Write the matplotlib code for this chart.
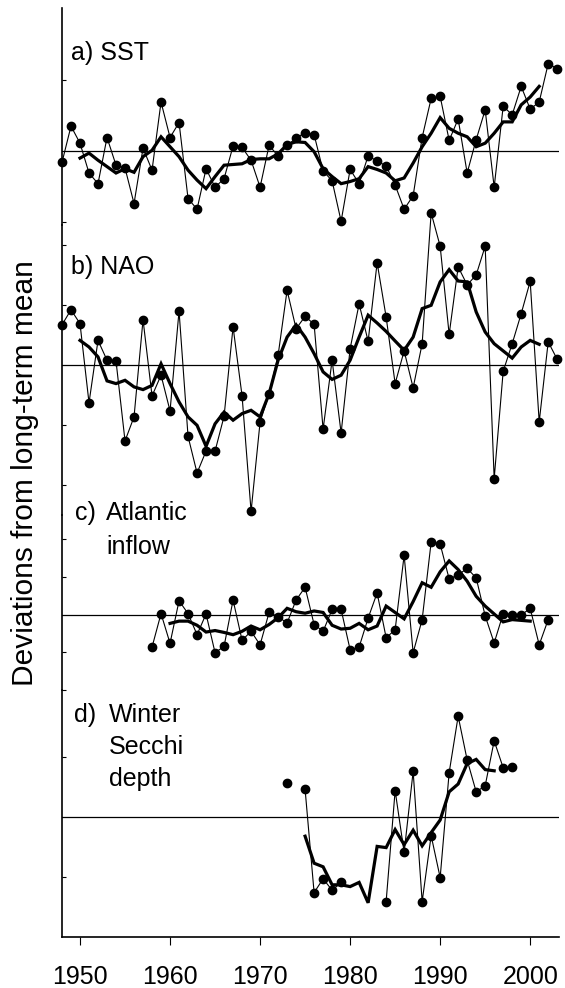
import numpy as np
from matplotlib import pyplot as plt

plt.rcParams['font.family'] = ['Liberation Sans', 'DejaVu Sans']

# years for each record
years_sst = np.arange(1948, 2004)
years_nao = np.arange(1948, 2004)
years_inflow = np.arange(1958, 2003)
years_secchi = np.arange(1973, 1999)

# a) SST deviations
sst = [-0.16, 0.35, 0.11, -0.31, -0.46, 0.19, -0.20, -0.24, -0.74, 0.04,
       -0.27, 0.69, 0.19, 0.40, -0.67, -0.82, -0.25, -0.51, -0.39, 0.07,
       0.05, -0.13, -0.51, 0.08, -0.07, 0.08, 0.18, 0.26, 0.23, -0.28,
       -0.42, -0.99, -0.26, -0.46, -0.07, -0.14, -0.21, -0.48, -0.82, -0.63,
       0.19, 0.74, 0.77, 0.15, 0.45, -0.31, 0.16, 0.58, -0.51, 0.63,
       0.51, 0.91, 0.59, 0.69, 1.23, 1.16]
years_sst_smooth = np.arange(1950, 2002)
sst_smooth = [-0.10, -0.03, -0.13, -0.22, -0.31, -0.25, -0.30, -0.08, 0.01, 0.20,
              0.06, -0.08, -0.27, -0.41, -0.53, -0.36, -0.20, -0.19, -0.18, -0.12,
              -0.11, -0.11, -0.04, 0.09, 0.13, 0.12, -0.01, -0.25, -0.36, -0.46,
              -0.43, -0.39, -0.22, -0.26, -0.31, -0.42, -0.38, -0.17, 0.06, 0.25,
              0.47, 0.32, 0.25, 0.20, 0.06, 0.11, 0.25, 0.41, 0.41, 0.65,
              0.76, 0.91]

# b) NAO index
nao = [1.34, 1.84, 1.38, -1.26, 0.82, 0.16, 0.13, -2.53, -1.73, 1.51,
       -1.03, -0.34, -1.53, 1.80, -2.38, -3.60, -2.87, -2.87, -1.71, 1.27,
       -1.03, -4.88, -1.90, -0.96, 0.32, 2.49, 1.21, 1.62, 1.36, -2.14,
       0.16, -2.27, 0.54, 2.04, 0.79, 3.41, 1.60, -0.62, 0.47, -0.76,
       0.71, 5.07, 3.96, 1.02, 3.27, 2.67, 3.00, 3.96, -3.79, -0.21,
       0.71, 1.71, 2.79, -1.90, 0.77, 0.19]
years_nao_smooth = np.arange(1950, 2002)
nao_smooth = [0.82, 0.60, 0.27, -0.53, -0.62, -0.51, -0.73, -0.82, -0.68, 0.04,
              -0.62, -1.23, -1.73, -2.01, -2.71, -1.96, -1.57, -1.84, -1.62, -1.51,
              -1.73, -0.96, 0.16, 0.93, 1.34, 0.93, 0.38, -0.23, -0.48, -0.34,
              0.16, 0.93, 1.66, 1.40, 1.12, 0.80, 0.49, 0.93, 1.88, 1.99,
              2.77, 3.18, 2.80, 2.77, 1.77, 1.10, 0.71, 0.47, 0.23, 0.60,
              0.82, 0.69]

# c) Atlantic inflow
inflow = [-0.86, 0.03, -0.76, 0.37, 0.03, -0.53, 0.02, -1.01, -0.84, 0.39,
          -0.68, -0.44, -0.80, 0.06, -0.05, -0.22, 0.39, 0.73, -0.26, -0.44,
          0.14, 0.14, -0.93, -0.86, -0.09, 0.58, -0.61, -0.40, 1.58, -1.01,
          -0.13, 1.93, 1.88, 0.95, 1.06, 1.23, 0.98, -0.03, -0.75, 0.03,
          0.00, -0.01, 0.17, -0.80, -0.13]
years_inflow_smooth = np.arange(1960, 2001)
inflow_smooth = [-0.23, -0.17, -0.17, -0.28, -0.46, -0.42, -0.47, -0.53, -0.44, -0.30,
                 -0.40, -0.26, -0.08, 0.17, 0.08, 0.04, 0.10, 0.06, -0.28, -0.38,
                 -0.36, -0.23, -0.40, -0.30, 0.23, 0.06, -0.11, 0.35, 0.85, 0.73,
                 1.14, 1.43, 1.20, 0.89, 0.49, 0.23, 0.02, -0.19, -0.13, -0.15,
                 -0.17]

# d) winter Secchi depth (nan = no data)
nan = np.nan
secchi = [0.57, nan, 0.46, -1.26, -1.03, -1.22, -1.09, nan, nan, nan,
          nan, -1.41, 0.44, -0.59, 0.76, -1.41, -0.31, -1.01, 0.74, 1.68,
          0.95, 0.42, 0.52, 1.27, 0.82, 0.83]
years_secchi_smooth = np.arange(1975, 1997)
secchi_smooth = [-0.32, -0.77, -0.83, -1.13, -1.13, -1.16, -1.09, -1.43, -0.49, -0.51,
                 -0.21, -0.46, -0.22, -0.48, -0.26, -0.05, 0.42, 0.55, 0.89, 0.96,
                 0.79, 0.77]

panels = [
    (years_sst, sst, years_sst_smooth, sst_smooth),
    (years_nao, nao, years_nao_smooth, nao_smooth),
    (years_inflow, inflow, years_inflow_smooth, inflow_smooth),
    (years_secchi, secchi, years_secchi_smooth, secchi_smooth),
]
# pixel layout: panel top, bottom, zero line, pixels per unit
boxes = [(8, 225, 151, 71), (225, 515, 365, 30), (515, 690, 621, 40), (690, 937, 817, 60)]
ticks = [[-1, 1], [-4, -2, 2, 4], [-2, -1, 1, 2], [-1, 1]]

# panel labels: (text, x px, y px centre)
labels = [("a) SST", 71, 53), ("b) NAO", 71, 267),
          ("c)", 75, 513), ("Atlantic", 106, 513), ("inflow", 106, 547),
          ("d)", 74, 715), ("Winter", 109, 715), ("Secchi", 109, 747), ("depth", 109, 779)]

W, H = 565, 988
fig = plt.figure(figsize=(W / 100, H / 100), dpi=100)
x0, x1 = 62, 559

for i, (yr, val, yrs, sm) in enumerate(panels):
    top, bot, zero, scale = boxes[i]
    ax = fig.add_axes([x0 / W, 1 - bot / H, (x1 - x0) / W, (bot - top) / H])
    ax.patch.set_alpha(0)
    ax.set_xlim(1948, 2003.2)
    ax.set_ylim((zero - bot) / scale, (zero - top) / scale)
    ax.axhline(0, color='black', lw=0.9)
    ax.plot(yr, val, '-o', color='black', lw=0.8, ms=6, clip_on=False)
    ax.plot(yrs, sm, '-', color='black', lw=2.3, clip_on=False, solid_joinstyle='miter')
    for s in ['top', 'right']:
        ax.spines[s].set_visible(False)
    ax.spines['left'].set_linewidth(1.2)
    ax.set_yticks(ticks[i])
    ax.tick_params(axis='y', direction='in', length=3, width=0.8, labelleft=False)
    if i < 3:
        ax.spines['bottom'].set_visible(False)
        ax.tick_params(axis='x', bottom=False, labelbottom=False)
    else:
        ax.spines['bottom'].set_linewidth(1.2)
        ax.set_xticks([1950, 1960, 1970, 1980, 1990, 2000])
        ax.tick_params(axis='x', direction='out', length=6, width=0.8, pad=14, labelsize=18)

for txt, px, py in labels:
    fig.text(px / W, 1 - py / H, txt, fontsize=18, va='center')

fig.text(25 / W, 1 - 473 / H, "Deviations from long-term mean", fontsize=21.5,
         rotation=90, ha='center', va='center')

fig.savefig("out.png", dpi=100)
